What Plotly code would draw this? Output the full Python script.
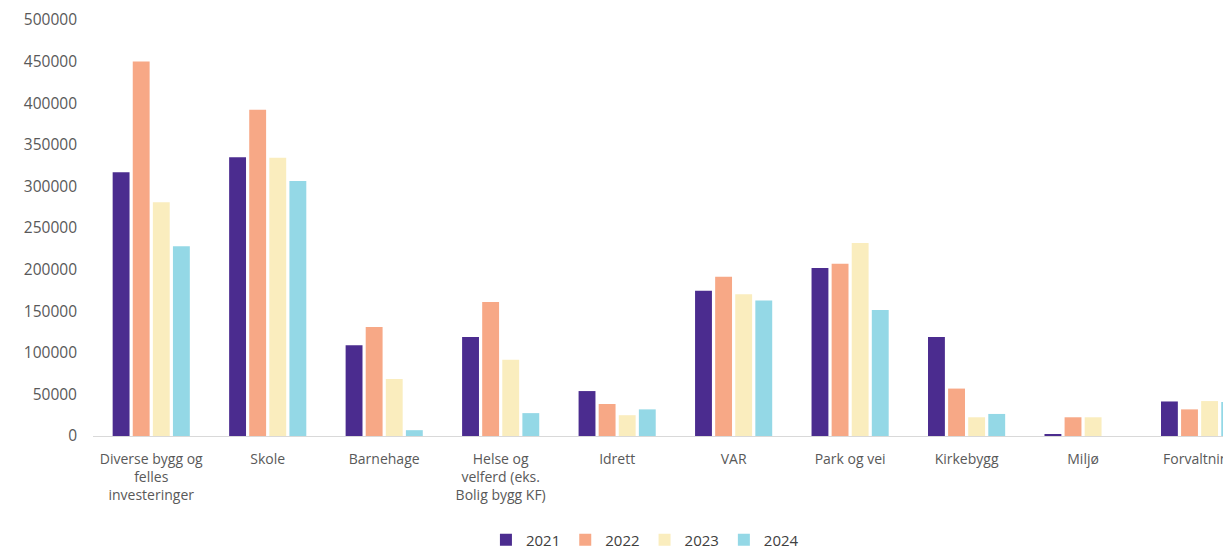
import plotly.graph_objects as go

categories = [
    "Diverse bygg og<br>felles<br>investeringer",
    "Skole",
    "Barnehage",
    "Helse og<br>velferd (eks.<br>Bolig bygg KF)",
    "Idrett",
    "VAR",
    "Park og vei",
    "Kirkebygg",
    "Miljø",
    "Forvaltning",
]
years = ["2021", "2022", "2023", "2024"]
v2021 = [317000, 335000, 109000, 119000, 54000, 174500, 202000, 119000, 1500, 41500]
v2022 = [450000, 392000, 131000, 161000, 38500, 191500, 207000, 57000, 22500, 32000]
v2023 = [281000, 334500, 68500, 91500, 25000, 170500, 232000, 22500, 22500, 42000]
v2024 = [228000, 306500, 7000, 27500, 32000, 163000, 151500, 26500, 0, 41000]
series = [v2021, v2022, v2023, v2024]
colors = ["#4B2C8F", "#F7A886", "#FAEDBE", "#94D8E6"]
yticks = [0, 50000, 100000, 150000, 200000, 250000, 300000, 350000, 400000, 450000, 500000]

fig = go.Figure()
for name, vals, col in zip(years, series, colors):
    fig.add_trace(go.Bar(name=name, x=list(range(len(categories))), y=vals,
                         marker=dict(color=col, line=dict(width=0))))

fig.update_layout(
    width=1223, height=543, autosize=False,
    margin=dict(l=85, r=0, t=12, b=115, autoexpand=False),
    paper_bgcolor="white", plot_bgcolor="white",
    barmode="group", bargap=0.31, bargroupgap=0.16,
    font=dict(family="Open Sans", size=14, color="#595959"),
    legend=dict(orientation="h", x=0.485, xanchor="center", y=-0.25, yanchor="middle",
                font=dict(size=15, color="#404040"), itemwidth=30, traceorder="normal"),
    showlegend=True,
)
fig.update_xaxes(
    tickmode="array", tickvals=list(range(len(categories))), ticktext=categories,
    range=[-0.5, 9.27], showline=True, linecolor="#D9D9D9", linewidth=1,
    showgrid=False, zeroline=False, ticks="", tickangle=0, ticklabelstandoff=10,
    ticklabeloverflow="allow",
)
fig.update_yaxes(
    range=[0, 500000], tickvals=yticks, tickformat="d", showgrid=False,
    zeroline=False, showline=False, ticks="", ticklabelstandoff=15,
    tickfont=dict(size=15.5),
)
fig.write_html("out.html")
